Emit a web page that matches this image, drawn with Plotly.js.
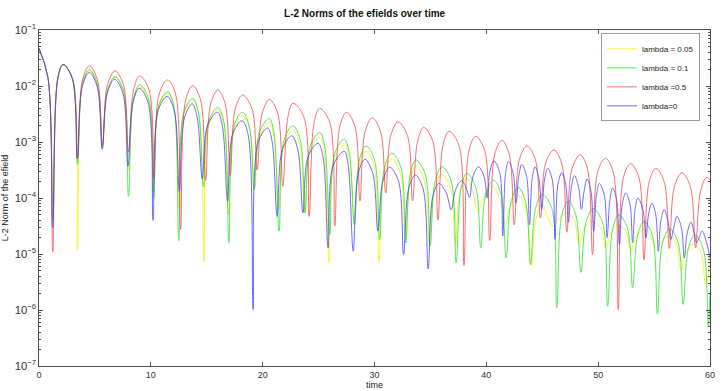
<!DOCTYPE html>
<html><head><meta charset="utf-8">
<script src="https://cdn.plot.ly/plotly-3.0.1.min.js"></script>
<style>html,body{margin:0;padding:0;background:#fff}#plot{width:722px;height:391px}</style>
</head><body><div id="plot"></div>
<script>
// lambda = 0.05 (yellow)
const tYellow=[0,0.8,1.23,1.68,2.15,3.0,3.44,3.89,4.5,5.22,5.67,6.12,6.8,7.55,8.0,8.45,9.0,9.8,10.25,10.7,11.5,12.05,12.5,12.95,13.75,14.3,14.75,15.2,16.0,16.53,16.98,17.43,18.2,18.85,19.3,19.75,20.6,21.0,21.45,21.9,22.7,23.3,23.75,24.2,25.1,25.5,25.94,26.4,27.3,27.75,28.2,28.65,29.25,29.95,30.4,30.85,31.55,32.3,32.75,33.2,33.7,34.45,34.9,35.35,36.05,36.8,37.22,37.65,38.25,38.8,39.24,39.7,40.5,41.25,41.68,42.1,42.8,43.55,44.0,44.45,45.0,45.5,45.94,46.4,47.25,47.85,48.3,48.75,49.4,50.25,50.7,51.15,51.75,52.5,52.93,53.4,54.15,54.7,55.16,55.6,56.25,56.95,57.4,57.85,58.45,59.15,59.6,60];
const vYellow=[4.7e-2,1.41e-2,3.98e-5,1.35e-2,2.42e-2,1.35e-2,1.2e-5,1.12e-2,2.0e-2,1.12e-2,7.9e-4,8.1e-3,1.45e-2,8.1e-3,3.16e-4,5.4e-3,9.5e-3,5.4e-3,1.26e-4,4.2e-3,7.4e-3,4.2e-3,6.3e-5,3.16e-3,5.6e-3,3.16e-3,7.4e-6,2.09e-3,3.7e-3,2.09e-3,5.0e-5,1.66e-3,2.95e-3,1.66e-3,1.58e-4,1.26e-3,2.24e-3,1.26e-3,6.3e-5,9.1e-4,1.62e-3,9.1e-4,5.4e-5,6.8e-4,1.2e-3,6.8e-4,6.9e-6,5.0e-4,8.9e-4,5.0e-4,3.98e-5,3.8e-4,6.8e-4,3.8e-4,7.4e-6,2.82e-4,5.0e-4,2.82e-4,2.0e-5,2.09e-4,3.7e-4,2.09e-4,1.58e-5,1.48e-4,2.63e-4,1.48e-4,1.48e-5,1.26e-4,2.24e-4,1.26e-4,5.75e-5,9.1e-5,1.62e-4,9.1e-5,3.3e-5,6.5e-5,1.15e-4,6.5e-5,6.2e-6,4.3e-5,7.6e-5,4.3e-5,3.16e-5,4.1e-5,5.4e-5,4.1e-5,1.48e-5,2.88e-5,3.8e-5,2.88e-5,1.29e-5,2.51e-5,3.3e-5,2.51e-5,1.12e-5,2.09e-5,2.75e-5,2.09e-5,1.2e-5,1.58e-5,2.09e-5,1.58e-5,5.0e-6,1.12e-5,1.48e-5,1.12e-5,2.88e-6,7.9e-6];

// lambda = 0.1 (green)
const tGreen=[0,0.8,1.23,1.68,2.15,3.0,3.44,3.89,4.5,5.22,5.67,6.12,6.8,7.55,8.0,8.45,9.0,9.8,10.25,10.7,11.5,12.05,12.5,12.95,13.75,14.25,14.7,15.15,16.0,16.53,16.98,17.43,18.2,18.8,19.24,19.7,20.6,21.0,21.47,21.92,22.7,23.35,23.8,24.25,25.1,25.55,26.0,26.45,27.3,27.75,28.2,28.65,29.25,30.0,30.46,30.9,31.55,32.35,32.8,33.2,33.7,34.53,34.98,35.43,36.05,36.85,37.3,37.75,38.25,39.05,39.5,39.95,40.65,41.32,41.77,42.22,42.85,43.5,43.95,44.4,45.0,45.85,46.3,46.75,47.35,48.0,48.46,48.9,49.55,50.4,50.85,51.3,51.85,52.63,53.08,53.53,54.1,54.85,55.3,55.75,56.4,57.15,57.6,58.05,58.65,59.4,59.85,60];
const vGreen=[4.7e-2,1.41e-2,3.98e-5,1.35e-2,2.42e-2,1.35e-2,3.98e-4,1.07e-2,1.92e-2,1.07e-2,7.9e-4,8.2e-3,1.46e-2,8.2e-3,1.07e-4,5.9e-3,1.05e-2,5.9e-3,1.0e-4,4.5e-3,7.9e-3,4.5e-3,1.74e-5,3.4e-3,6.0e-3,3.4e-3,1.58e-4,2.32e-3,4.1e-3,2.32e-3,1.58e-5,1.91e-3,3.4e-3,1.91e-3,1.41e-4,1.48e-3,2.63e-3,1.48e-3,2.57e-5,1.1e-3,1.95e-3,1.1e-3,5.4e-5,8.3e-4,1.48e-3,8.3e-4,2.24e-5,6.3e-4,1.12e-3,6.3e-4,3.3e-5,4.8e-4,8.5e-4,4.8e-4,1.82e-5,3.55e-4,6.3e-4,3.55e-4,1.58e-5,2.69e-4,4.8e-4,2.69e-4,1.38e-5,2.04e-4,3.6e-4,2.04e-4,6.9e-6,1.55e-4,2.75e-4,1.55e-4,1.29e-5,1.17e-4,2.09e-4,1.17e-4,8.5e-6,8.7e-5,1.55e-4,8.7e-5,6.5e-6,6.5e-5,1.15e-4,6.5e-5,1.1e-6,5.0e-5,8.9e-5,5.0e-5,4.7e-6,3.6e-5,6.5e-5,3.6e-5,1.17e-6,2.82e-5,5.0e-5,2.82e-5,2.51e-6,2.14e-5,3.8e-5,2.14e-5,8.5e-7,1.58e-5,2.82e-5,1.58e-5,1.26e-6,1.23e-5,2.19e-5,1.23e-5,5.0e-7,2.0e-6];

// lambda = 0.5 (red)
const tRed=[0,0.8,1.23,1.68,2.15,3.0,3.44,3.89,4.52,5.22,5.67,6.12,6.8,7.55,8.0,8.45,9.0,9.84,10.29,10.74,11.5,12.21,12.66,13.11,13.75,14.45,14.9,15.35,16.0,16.65,17.1,17.55,18.2,19.05,19.5,19.95,20.6,21.35,21.8,22.25,22.7,23.7,24.15,24.6,25.1,26.0,26.45,26.9,27.5,28.25,28.7,29.15,29.8,30.55,31.0,31.45,32.1,32.95,33.4,33.85,34.4,35.22,35.67,36.12,36.66,37.55,38.0,38.45,39.05,39.85,40.3,40.75,41.4,42.05,42.5,42.95,43.65,44.39,44.84,45.29,46.04,46.75,47.2,47.65,48.4,49.05,49.5,49.95,50.65,51.35,51.8,52.25,52.9,53.65,54.1,54.55,55.17,55.91,56.36,56.81,57.5,58.25,58.7,59.15,59.7,60];
const vRed=[4.7e-2,1.41e-2,1.1e-5,1.35e-2,2.42e-2,1.35e-2,5.1e-4,1.29e-2,2.29e-2,1.29e-2,8.9e-4,1.05e-2,1.86e-2,1.05e-2,6.6e-4,8.5e-3,1.51e-2,8.5e-3,2.19e-4,7.2e-3,1.28e-2,7.2e-3,2.75e-5,5.6e-3,1.01e-2,5.6e-3,2.04e-4,4.8e-3,8.5e-3,4.8e-3,2.5e-4,3.9e-3,6.9e-3,3.9e-3,3.16e-4,3.24e-3,5.75e-3,3.24e-3,1.62e-4,2.75e-3,4.9e-3,2.75e-3,4.7e-5,2.24e-3,3.98e-3,2.24e-3,3.16e-5,1.91e-3,3.39e-3,1.91e-3,8.9e-5,1.51e-3,2.69e-3,1.51e-3,1.23e-4,1.29e-3,2.29e-3,1.29e-3,8.9e-5,1.02e-3,1.82e-3,1.02e-3,4.1e-5,8.7e-4,1.55e-3,8.7e-4,6.2e-6,7.1e-4,1.26e-3,7.1e-4,1.74e-5,6.0e-4,1.07e-3,6.0e-4,3.3e-5,4.8e-4,8.5e-4,4.8e-4,4.4e-5,4.1e-4,7.2e-4,4.1e-4,2.45e-5,3.3e-4,5.9e-4,3.3e-4,9.8e-6,2.9e-4,5.1e-4,2.9e-4,1.02e-6,2.3e-4,4.1e-4,2.3e-4,7.9e-6,1.91e-4,3.4e-4,1.91e-4,1.26e-5,1.58e-4,2.82e-4,1.58e-4,1.29e-5,1.32e-4,2.34e-4,2.09e-4];

// lambda = 0 (blue)
const tBlue=[0,0.8,1.22,1.67,2.15,2.97,3.42,3.87,4.5,5.2,5.65,6.1,6.75,7.5,7.95,8.4,8.95,9.75,10.2,10.65,11.45,12.1,12.55,13.0,13.7,14.15,14.6,15.05,15.95,16.4,16.86,17.3,18.15,18.7,19.15,19.6,20.45,20.85,21.3,21.75,22.6,23.15,23.6,24.05,24.95,25.4,25.85,26.3,27.3,27.65,28.1,28.55,29.15,29.85,30.3,30.75,31.35,32.15,32.6,33.05,33.65,34.35,34.8,35.2,35.75,36.4,36.86,37.25,37.8,38.2,38.5,38.8,39.3,39.8,40.07,40.3,40.67,41.2,41.47,41.72,41.98,42.4,42.66,42.9,43.17,43.6,43.86,44.1,44.36,44.7,44.96,45.2,45.49,45.9,46.14,46.4,46.74,47.1,47.34,47.6,47.88,48.25,48.5,48.75,49.0,49.35,49.6,49.85,50.1,50.55,50.8,51.05,51.3,51.65,51.9,52.15,52.48,52.85,53.08,53.3,53.55,54.0,54.27,54.5,54.8,55.15,55.38,55.6,55.9,56.25,56.5,56.75,57.05,57.45,57.7,57.95,58.3,58.6,58.8,59.05,59.3,59.7,60];
const vBlue=[4.7e-2,1.41e-2,2.95e-5,1.35e-2,2.42e-2,1.36e-2,5.1e-4,9.8e-3,1.74e-2,9.8e-3,7.4e-4,7.4e-3,1.32e-2,7.4e-3,3.7e-4,5.1e-3,9.1e-3,5.1e-3,3.98e-5,3.6e-3,6.5e-3,3.6e-3,1.32e-4,2.69e-3,4.8e-3,2.69e-3,2.19e-4,1.91e-3,3.39e-3,1.91e-3,8.7e-5,1.35e-3,2.4e-3,1.35e-3,1.02e-6,1.0e-3,1.78e-3,1.0e-3,4.7e-5,7.2e-4,1.29e-3,7.2e-4,5.4e-5,5.4e-4,9.5e-4,5.4e-4,1.29e-5,3.8e-4,6.8e-4,3.8e-4,1.12e-5,2.75e-4,4.9e-4,2.75e-4,2.57e-5,2.0e-4,3.55e-4,2.0e-4,9.8e-6,1.45e-4,2.57e-4,1.45e-4,5.4e-6,1.02e-4,1.82e-4,1.26e-4,6.2e-5,1.41e-4,2.04e-4,1.51e-4,1.02e-4,2.4e-4,3.6e-4,2.4e-4,1.0e-4,2.82e-4,4.6e-4,2.82e-4,2.09e-5,2.75e-4,4.5e-4,2.75e-4,8.1e-5,2.45e-4,3.98e-4,2.45e-4,3.3e-5,2.24e-4,3.6e-4,2.24e-4,6.2e-5,2.09e-4,3.4e-4,2.09e-4,1.82e-5,1.74e-4,2.82e-4,1.74e-4,3.7e-5,1.55e-4,2.51e-4,1.55e-4,6.3e-5,1.35e-4,2.19e-4,1.35e-4,2.57e-5,1.12e-4,1.82e-4,1.12e-4,1.95e-5,9.3e-5,1.51e-4,9.3e-5,1.48e-5,7.6e-5,1.23e-4,7.6e-5,1.58e-5,6.2e-5,1.0e-4,6.2e-5,1.95e-5,5.0e-5,8.1e-5,5.0e-5,1.12e-5,3.8e-5,6.2e-5,3.8e-5,1.82e-5,2.88e-5,4.7e-5,2.88e-5,8.5e-6,2.29e-5,3.7e-5,2.29e-5,1.58e-5,2.0e-5,2.57e-5,1.58e-5,8.5e-6];

const seriesNames=['lambda = 0.05','lambda = 0.1','lambda =0.5','lambda=0'];
const xTickVals=[0,10,20,30,40,50,60];

const colors=['#f2f200','#22e022','#ff3c3c','#3c3cff'];
const xs=[tYellow,tGreen,tRed,tBlue], ys=[vYellow,vGreen,vRed,vBlue];
const traces=xs.map((x,i)=>({x:x,y:ys[i],type:'scatter',mode:'lines',name:seriesNames[i],
  line:{color:colors[i],width:1,shape:'spline',smoothing:1},opacity:0.75}));

const FONT='Liberation Sans, Arial, sans-serif';
const axisCommon={showline:true,linecolor:'#4d4d4d',linewidth:1,mirror:'allticks',ticks:'inside',ticklen:4,tickcolor:'#4d4d4d',
  showgrid:false,zeroline:false,tickfont:{family:FONT,size:9,color:'#333'}};

const layout={width:722,height:391,margin:{l:39,r:12,t:30,b:25},paper_bgcolor:'#fff',plot_bgcolor:'#fff',
  font:{family:FONT,size:9,color:'#222'},
  title:{text:'<b>L-2 Norms of the efields over time</b>',x:0.505,xanchor:'center',y:0.975,yanchor:'top',font:{family:FONT,size:10,color:'#111'}},
  xaxis:Object.assign({},axisCommon,{range:[0,60],tickvals:xTickVals,ticktext:xTickVals.map(String),
    title:{text:'time',font:{family:FONT,size:9,color:'#222'},standoff:2}}),
  yaxis:Object.assign({},axisCommon,{type:'log',range:[-7,-1],dtick:1,exponentformat:'power',
    minor:{dtick:'D1',ticks:'inside',ticklen:2,tickcolor:'#4d4d4d',showgrid:false},
    title:{text:'L-2 Norm of the efield',font:{family:FONT,size:9,color:'#222'},standoff:4}}),
  legend:{x:0.985,xanchor:'right',y:0.99,yanchor:'top',bgcolor:'#fff',bordercolor:'#999',borderwidth:1,
    font:{family:FONT,size:8,color:'#222'},tracegroupgap:0},
  showlegend:true};
Plotly.newPlot('plot',traces,layout,{displayModeBar:false});
</script></body></html>
